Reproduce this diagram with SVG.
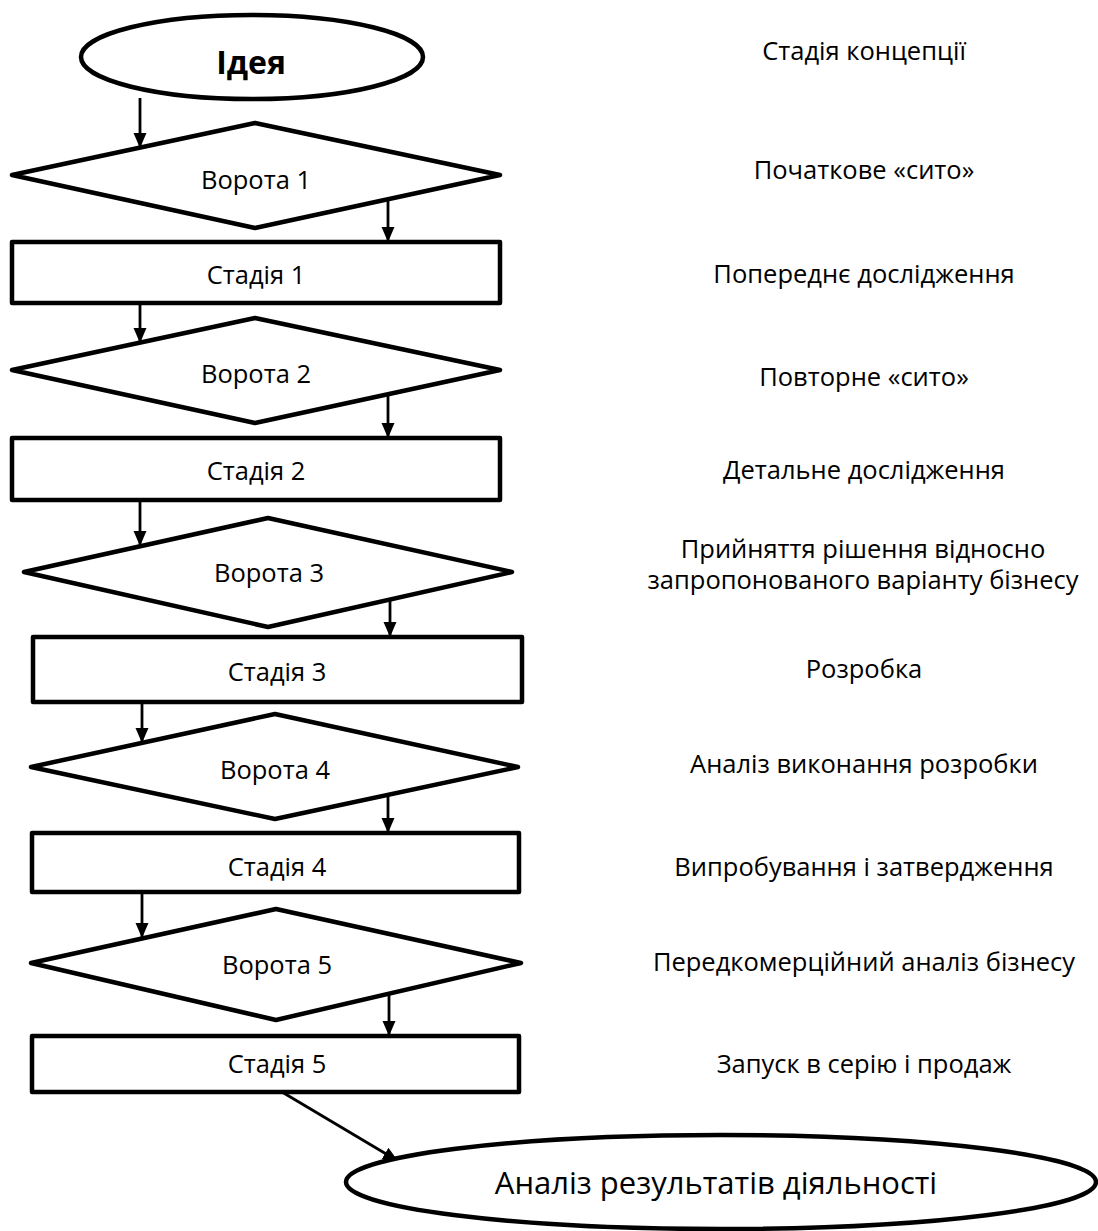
<svg xmlns="http://www.w3.org/2000/svg" width="1098" height="1231" viewBox="0 0 1098 1231">
<style>
.shape{fill:#fff;stroke:#000;stroke-width:4.5;stroke-linejoin:round}
.lbl{font-family:"Open Sans","Noto Sans","Liberation Sans",sans-serif;font-size:25.5px;fill:#000;text-anchor:middle}
.side{font-family:"Open Sans","Noto Sans","Liberation Sans",sans-serif;font-size:25.5px;fill:#000;text-anchor:middle}
.conn{stroke:#000;stroke-width:2.8;fill:none}
</style>
<defs>
<marker id="ah" markerUnits="userSpaceOnUse" markerWidth="16" markerHeight="16" viewBox="0 0 16 16" refX="15" refY="8" orient="auto">
<path d="M0,1.5 L15,8 L0,14.5 Z" fill="#000"/>
</marker>
</defs>
<rect width="1098" height="1231" fill="#fff"/>
<g id="connectors">
<line class="conn" x1="140" y1="98" x2="140" y2="148" marker-end="url(#ah)"/>
<line class="conn" x1="388" y1="199" x2="388" y2="242" marker-end="url(#ah)"/>
<line class="conn" x1="140" y1="303" x2="140" y2="343" marker-end="url(#ah)"/>
<line class="conn" x1="388" y1="394" x2="388" y2="438" marker-end="url(#ah)"/>
<line class="conn" x1="140" y1="500" x2="140" y2="546" marker-end="url(#ah)"/>
<line class="conn" x1="390" y1="599" x2="390" y2="637" marker-end="url(#ah)"/>
<line class="conn" x1="142" y1="702" x2="142" y2="743" marker-end="url(#ah)"/>
<line class="conn" x1="388" y1="795" x2="388" y2="833" marker-end="url(#ah)"/>
<line class="conn" x1="142" y1="892" x2="142" y2="938" marker-end="url(#ah)"/>
<line class="conn" x1="389" y1="994" x2="389" y2="1036" marker-end="url(#ah)"/>
<line class="conn" x1="282" y1="1092" x2="398" y2="1161" marker-end="url(#ah)"/>
</g>
<g id="idea">
<ellipse class="shape" cx="252" cy="57" rx="171" ry="42"/>
<text x="251" y="74" class="lbl" style="font-size:32px;font-weight:bold">Ідея</text>
</g>
<g id="gate1">
<polygon class="shape" points="12,175 255,123 500,175 255,228"/>
<text x="256" y="189" class="lbl">Ворота 1</text>
</g>
<g id="stage1">
<rect class="shape" x="12" y="242" width="488" height="61"/>
<text x="256" y="284" class="lbl">Стадія 1</text>
</g>
<g id="gate2">
<polygon class="shape" points="12,370 255,318 500,370 255,423"/>
<text x="256" y="383" class="lbl">Ворота 2</text>
</g>
<g id="stage2">
<rect class="shape" x="12" y="438" width="488" height="62"/>
<text x="256" y="480" class="lbl">Стадія 2</text>
</g>
<g id="gate3">
<polygon class="shape" points="24,572 268,518 512,572 268,627"/>
<text x="269" y="582" class="lbl">Ворота 3</text>
</g>
<g id="stage3">
<rect class="shape" x="33" y="637" width="489" height="65"/>
<text x="277" y="681" class="lbl">Стадія 3</text>
</g>
<g id="gate4">
<polygon class="shape" points="31,767 275,714 518,767 275,819"/>
<text x="275" y="779" class="lbl">Ворота 4</text>
</g>
<g id="stage4">
<rect class="shape" x="32" y="833" width="487" height="59"/>
<text x="277" y="876" class="lbl">Стадія 4</text>
</g>
<g id="gate5">
<polygon class="shape" points="31,963 276,909 521,963 276,1020"/>
<text x="277" y="974" class="lbl">Ворота 5</text>
</g>
<g id="stage5">
<rect class="shape" x="32" y="1036" width="487" height="56"/>
<text x="277" y="1073" class="lbl">Стадія 5</text>
</g>
<g id="result">
<ellipse class="shape" cx="721" cy="1182" rx="375" ry="47"/>
<text x="716" y="1194" class="lbl" style="font-size:31px">Аналіз результатів діяльності</text>
</g>
<g id="descriptions">
<text x="864" y="60" class="side">Стадія концепції</text>
<text x="864" y="179" class="side">Початкове «сито»</text>
<text x="864" y="283" class="side">Попереднє дослідження</text>
<text x="864" y="386" class="side">Повторне «сито»</text>
<text x="864" y="479" class="side">Детальне дослідження</text>
<text x="863" y="558" class="side">Прийняття рішення відносно</text>
<text x="863" y="589" class="side">запропонованого варіанту бізнесу</text>
<text x="864" y="678" class="side">Розробка</text>
<text x="864" y="773" class="side">Аналіз виконання розробки</text>
<text x="864" y="876" class="side">Випробування і затвердження</text>
<text x="864" y="971" class="side">Передкомерційний аналіз бізнесу</text>
<text x="864" y="1073" class="side">Запуск в серію і продаж</text>
</g>
</svg>
